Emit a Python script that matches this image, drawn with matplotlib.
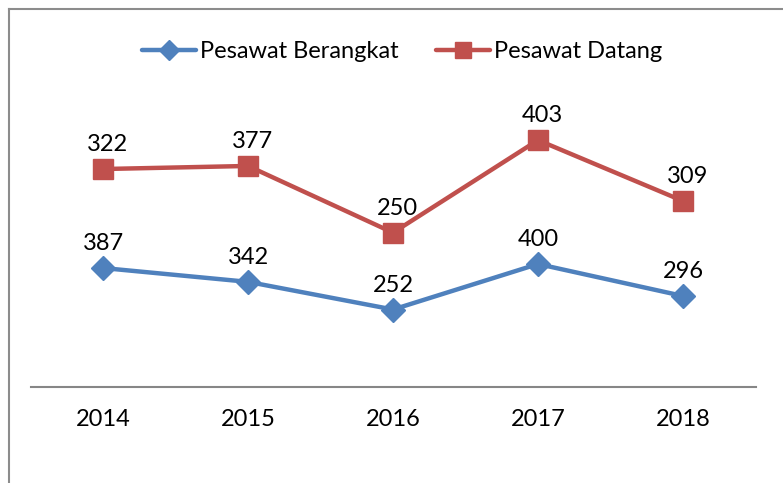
import matplotlib.pyplot as plt
from matplotlib.lines import Line2D

years = ["2014", "2015", "2016", "2017", "2018"]
berangkat = [387, 342, 252, 400, 296]
datang = [322, 377, 250, 403, 309]

blue = "#4F81BD"
red = "#C0504D"
plt.rcParams['font.family'] = ['Lato', 'DejaVu Sans']

W, H = 783, 483
fig = plt.figure(figsize=(W / 100, H / 100), dpi=100)
ax = fig.add_axes([30.5 / W, (H - 387) / H, 725 / W, 318.5 / H])

x = list(range(len(years)))
# chart is stacked: red series sits on top of blue
stacked = [b + d for b, d in zip(berangkat, datang)]

ax.plot(x, berangkat, color=blue, lw=3.2, marker='D', ms=12.5, label='Pesawat Berangkat', solid_capstyle='round')
ax.plot(x, stacked, color=red, lw=3.2, marker='s', ms=14, label='Pesawat Datang', solid_capstyle='round')

for i in x:
    ax.annotate(str(berangkat[i]), (i, berangkat[i]), xytext=(0, 10), textcoords='offset points',
                ha='center', va='bottom', fontsize=17)
    ax.annotate(str(datang[i]), (i, stacked[i]), xytext=(3, 10), textcoords='offset points',
                ha='center', va='bottom', fontsize=17)

ax.set_xlim(-0.5, 4.5)
ax.set_ylim(0, 1036)
ax.set_xticks(x)
ax.set_xticklabels(years, fontsize=17)
ax.tick_params(axis='x', length=0, pad=16)
ax.set_yticks([])
for s in ['top', 'right', 'left']:
    ax.spines[s].set_visible(False)
ax.spines['bottom'].set_color('#868686')
ax.spines['bottom'].set_linewidth(1.5)

ax.legend(loc='upper center', bbox_to_anchor=((402 - 30.5) / 725, (387 - 20) / 318.5), ncol=2, frameon=False,
          fontsize=17, handlelength=2.3, handletextpad=0.15, columnspacing=1.6, markerscale=0.8)

# outer chart border (partially cropped in the original)
fig.add_artist(Line2D([8.5 / W, 8.5 / W], [0, (H - 8.5) / H], color='#8c8c8c', lw=1.5))
fig.add_artist(Line2D([8.5 / W, 1], [(H - 8.5) / H, (H - 8.5) / H], color='#8c8c8c', lw=1.5))

fig.savefig("out.png", dpi=100)
